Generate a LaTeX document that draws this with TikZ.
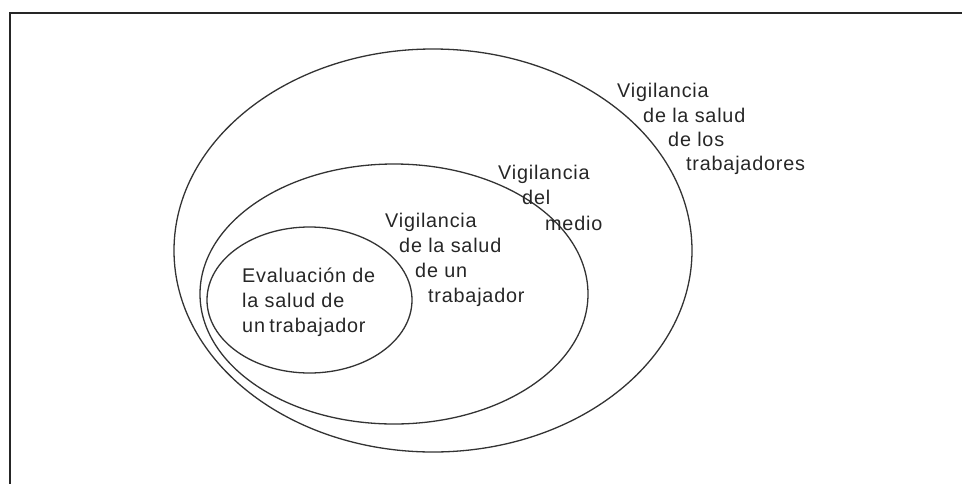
\documentclass[tikz,border=0pt]{standalone}
\usepackage{fontspec}
\usetikzlibrary{shapes.geometric}
\setmainfont[LetterSpace=4]{Liberation Sans}
\begin{document}
\begin{tikzpicture}[x=1pt,y=-1pt,
  ring/.style={draw=black!80,line width=1.3pt},
  lbl/.style={anchor=base west,inner sep=0pt,font=\fontsize{19.8}{24}\selectfont,text=black!85},
  frame/.style={draw=black!85,line width=2pt}]
\useasboundingbox (0,0) rectangle (962,483);
\coordinate (fb) at (10,484);
\coordinate (fc) at (10,13);
\coordinate (fr) at (963,13);
\draw[frame] (fb) -- (fc) -- (fr);
\node[ring,ellipse,minimum width=518pt,minimum height=403pt,inner sep=0pt] (outer) at (433,250.5) {};
\node[ring,ellipse,minimum width=388pt,minimum height=260pt,inner sep=0pt] (middle) at (394,294) {};
\node[ring,ellipse,minimum width=205pt,minimum height=146pt,inner sep=0pt] (inner) at (309.5,300) {};
% outer labels
\node[lbl] (o1) at (617,97) {Vigilancia};
\node[lbl] (o2) at (643,122) {de la salud};
\node[lbl] (o3) at (668,146) {de los};
\node[lbl] (o4) at (686,170.5) {trabajadores};
% medio labels
\node[lbl] (m1) at (498,179) {Vigilancia};
\node[lbl] (m2) at (522,204) {del};
\node[lbl] (m3) at (545,230) {medio};
% middle labels
\node[lbl] (v1) at (385,227) {Vigilancia};
\node[lbl] (v2) at (399,252) {de la salud};
\node[lbl] (v3) at (415,277) {de un};
\node[lbl] (v4) at (428,302) {trabajador};
% inner labels
\node[lbl] (e1) at (242,282) {Evaluación de};
\node[lbl] (e2) at (242,307) {la salud de};
\node[lbl] (e3) at (242,332) {un\hspace{-2pt} trabajador};
\end{tikzpicture}
\end{document}
